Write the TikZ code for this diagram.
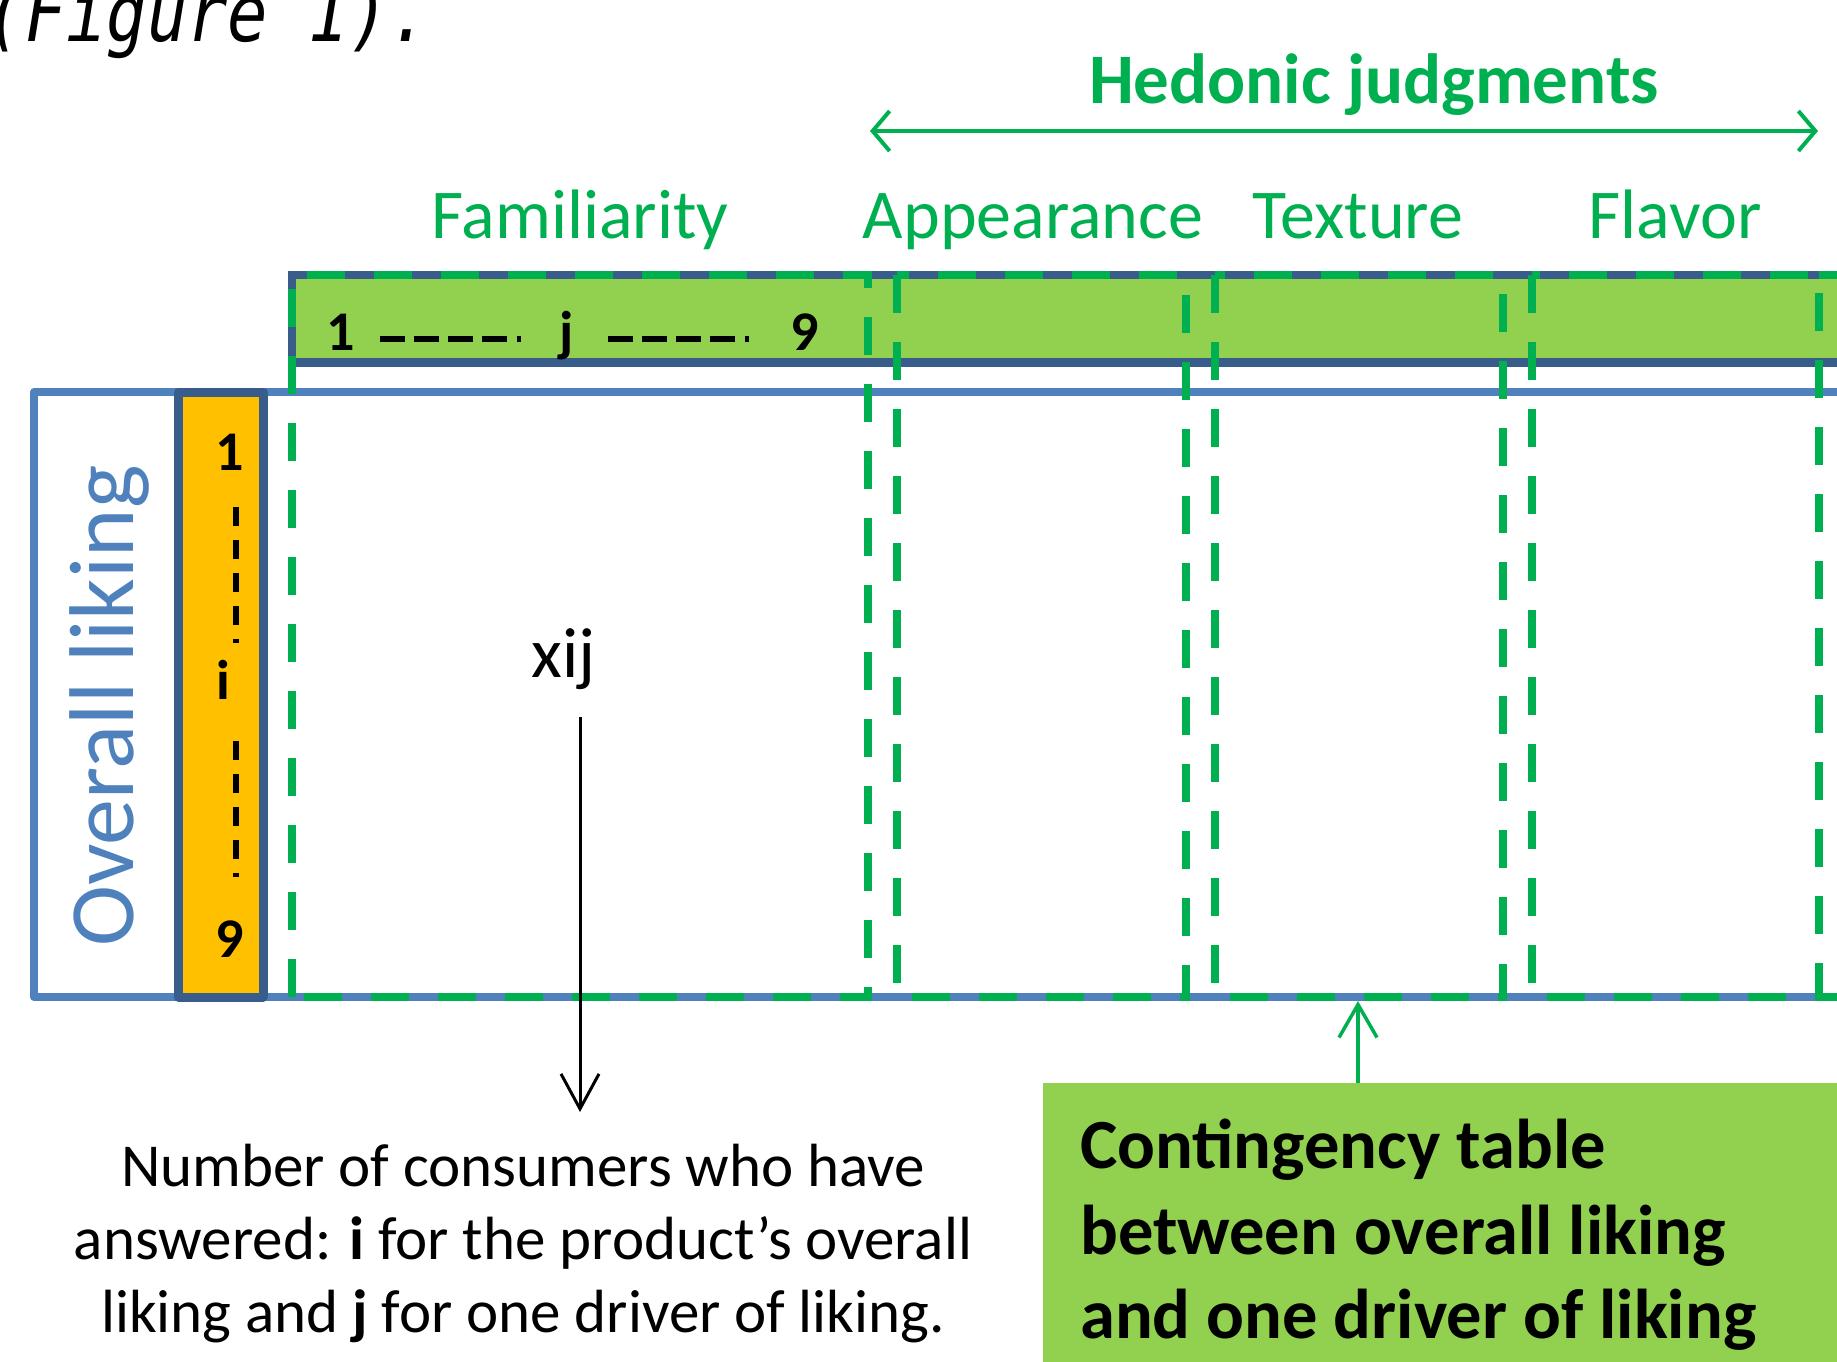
\documentclass[tikz,border=0pt]{standalone}
\usepackage{fontspec}
\setmainfont{Carlito}
\newfontfamily\figfont{DejaVu Sans Mono}[FakeStretch=0.84]
\usetikzlibrary{arrows.meta}
\definecolor{gline}{HTML}{00B050}
\definecolor{gfill}{HTML}{92D050}
\definecolor{dblue}{HTML}{385D8A}
\definecolor{lblue}{HTML}{4F81BD}
\definecolor{orng}{HTML}{FFC000}
\tikzset{
  blockrect/.style={draw=gline, line width=8pt, dash pattern=on 38pt off 29pt},
  catlabel/.style={anchor=base, text=gline, inner sep=0pt, font=\fontsize{70}{84}\selectfont},
  scalenum/.style={anchor=base, inner sep=0pt, font=\bfseries\fontsize{56}{66}\selectfont},
  paratext/.style={anchor=base, inner sep=0pt, font=\fontsize{61}{73}\selectfont},
  boxtext/.style={anchor=base west, inner sep=0pt, font=\bfseries\fontsize{70.5}{85}\selectfont},
  hdash/.style={line width=6pt, dash pattern=on 25pt off 9pt on 25pt off 9pt on 25pt off 9pt on 25pt off 10pt on 4pt off 300pt},
  vdash/.style={line width=6pt, dash pattern=on 19pt off 14pt on 19pt off 14pt on 19pt off 14pt on 19pt off 14pt on 4pt off 300pt}
}
\begin{document}
\begin{tikzpicture}[x=1pt,y=-1pt]
\useasboundingbox (0,0) rectangle (1837,1361);

% caption fragment
\node[anchor=base west, inner sep=0pt, font=\figfont\itshape\fontsize{80}{90}\selectfont] (fig) at (-15,41) {(Figure 1).};

% hedonic judgments
\node[anchor=base, inner sep=0pt, text=gline, font=\bfseries\fontsize{71}{84}\selectfont] (hed) at (1374,103) {Hedonic judgments};
\coordinate (hl) at (870,131);
\coordinate (hr) at (1818,131);
\draw[gline, line width=4pt, {Straight Barb[length=17pt,width=40pt]}-{Straight Barb[length=17pt,width=40pt]}] (hl) -- (hr);

% category labels
\node[catlabel] (fam) at (580,238) {Familiarity};
\node[catlabel] (app) at (1033,238) {Appearance};
\node[catlabel] (tex) at (1358,238) {Texture};
\node[catlabel] (fla) at (1675,238) {Flavor};

% top bar
\fill[gfill] (292,275) rectangle (1850,362);
\draw[dblue, line width=8pt] (1850,275) -- (292,275) -- (292,362);
\draw[dblue, line width=9pt] (292,362) -- (1850,362);

% main blue frame
\draw[lblue, line width=8pt, line join=round] (1850,392) -- (34,392) -- (34,997) -- (1850,997);

% orange column
\draw[dblue, line width=9pt, fill=orng, line join=round] (178,392) rectangle (263,997);

% green dashed blocks
\draw[blockrect] (292,997) rectangle (868,275);
\draw[blockrect] (897,275) rectangle (1186,997);
\draw[blockrect] (1215,275) rectangle (1503,997);
\draw[blockrect] (1532,275) rectangle (1819,997);
\draw[blockrect] (1819,275) -- (1850,275);
\draw[blockrect] (1819,997) -- (1850,997);

% scale in top bar
\node[scalenum] (c1) at (341,350) {1};
\node[scalenum] (cj) at (567,350) {j};
\node[scalenum] (c9) at (805,350) {9};
\coordinate (d1a) at (380,339);
\coordinate (d1b) at (530,339);
\coordinate (d2a) at (608,339);
\coordinate (d2b) at (760,339);
\draw[hdash] (d1a) -- (d1b);
\draw[hdash] (d2a) -- (d2b);

% scale in orange column
\node[scalenum] (r1) at (230,470) {1};
\node[scalenum] (ri) at (223,699) {i};
\node[scalenum] (r9) at (230,957) {9};
\coordinate (v1a) at (236,507);
\coordinate (v1b) at (236,670);
\coordinate (v2a) at (236,741);
\coordinate (v2b) at (236,900);
\draw[vdash] (v1a) -- (v1b);
\draw[vdash] (v2a) -- (v2b);

% overall liking
\node[rotate=90, anchor=base, inner sep=0pt, text=lblue, font=\fontsize{92}{100}\selectfont] (ol) at (133,706) {Overall liking};

% xij and its arrow
\node[anchor=base, inner sep=0pt, font=\fontsize{71}{84}\selectfont] (xij) at (564,677) {xij};
\coordinate (xa) at (580,717);
\coordinate (xb) at (580,1112);
\draw[line width=3pt, -{Straight Barb[length=35pt,width=38pt]}] (xa) -- (xb);

% explanation
\node[paratext] (p1) at (523,1186) {Number of consumers who have};
\node[paratext] (p2) at (523,1259) {answered: \textbf{i} for the product’s overall};
\node[paratext] (p3) at (523,1332) {liking and \textbf{j} for one driver of liking.};

% contingency box
\node[anchor=north west, fill=gfill, inner sep=0pt, minimum width=820pt, minimum height=300pt] (box) at (1043,1083) {};
\node[boxtext] (b1) at (1080,1168) {Contingency table};
\node[boxtext] (b2) at (1080,1254) {between overall liking};
\node[boxtext] (b3) at (1080,1338) {and one driver of liking};
\coordinate (gt) at (1358,1001);
\draw[gline, line width=3.5pt, -{Straight Barb[length=33pt,width=38pt]}] (box.north -| gt) -- (gt);
\end{tikzpicture}
\end{document}
